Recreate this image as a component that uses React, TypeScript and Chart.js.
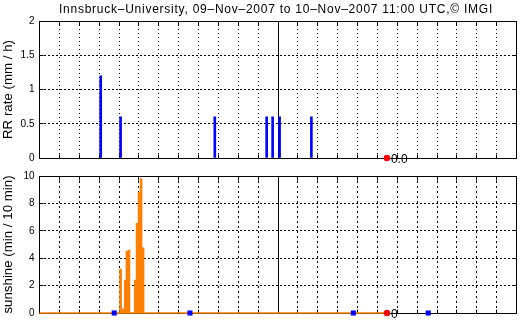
import React, { useEffect, useRef } from "react";
import { Chart, registerables } from "chart.js";

Chart.register(...registerables);

const TITLE = "Innsbruck\u2013University, 09\u2013Nov\u20132007 to 10\u2013Nov\u20132007 11:00 UTC,\u00a9 IMGI";
const FONT = "'Liberation Sans', Arial, Helvetica, sans-serif";

// x axis: hours after 09-Nov-2007 11:00 UTC
const X_MIN = 0;
const X_MAX = 24;
const MIDNIGHT = 12; // local midnight (23:00 UTC)
const NOW_HOUR = 17.48;

// precipitation rate
const rrHours = [3.08, 4.08, 8.82, 11.43, 11.73, 12.08, 13.68];
const rrValues = [1.2, 0.6, 0.6, 0.6, 0.6, 0.6, 0.6];
const rrNow = 0.0;
const rrNowLabel = "0.0";
const rrTicks = [0, 0.5, 1, 1.5, 2];

// sunshine duration
const sunHours = [4.08, 4.22, 4.32, 4.4, 4.5, 4.82, 4.91, 5.01, 5.11, 5.21];
const sunValues = [3.2, 0.3, 2.4, 4.5, 4.6, 2.4, 6.55, 8.8, 9.8, 4.75];
const sunBaseHours = [0, NOW_HOUR];
const sunBaseValues = [0, 0];
const sunMarkHours = [3.76, 7.57, 15.79, 19.56];
const sunMarkValues = [0, 0, 0, 0];
const sunNow = 0;
const sunNowLabel = "0";
const sunTicks = [0, 2, 4, 6, 8, 10];

const framePlugin = {
  id: "frame",
  beforeDatasetsDraw(chart: any) {
    const { ctx, chartArea, scales } = chart;
    const { left, top, right, bottom } = chartArea;
    const x = scales.x;
    const y = scales.y;
    const a = (v: number) => Math.round(v - 0.5) + 0.5;
    ctx.save();
    ctx.strokeStyle = "#000";
    ctx.lineWidth = 1;
    ctx.setLineDash([]);
    ctx.beginPath();
    ctx.rect(a(left), a(top), a(right) - a(left), a(bottom) - a(top));
    x.ticks.forEach((t: any) => {
      const px = a(x.getPixelForValue(t.value));
      ctx.moveTo(px, a(bottom));
      ctx.lineTo(px, a(bottom) - 4);
      ctx.moveTo(px, a(top));
      ctx.lineTo(px, a(top) + 4);
    });
    y.ticks.forEach((t: any) => {
      const py = a(y.getPixelForValue(t.value));
      ctx.moveTo(a(left), py);
      ctx.lineTo(a(left) + 4, py);
      ctx.moveTo(a(right), py);
      ctx.lineTo(a(right) - 4, py);
    });
    ctx.stroke();
    ctx.restore();
  },
};

const valueLabelPlugin = {
  id: "valueLabel",
  afterDatasetsDraw(chart: any) {
    const { ctx } = chart;
    chart.data.datasets.forEach((ds: any, i: number) => {
      if (!ds.valueLabel) return;
      const meta = chart.getDatasetMeta(i);
      ctx.save();
      ctx.font = `12px ${FONT}`;
      ctx.fillStyle = "#000";
      ctx.textAlign = "left";
      ctx.textBaseline = "alphabetic";
      meta.data.forEach((pt: any) => {
        ctx.fillText(ds.valueLabel, pt.x + 4, pt.y + 4.5);
      });
      ctx.restore();
    });
  },
};

const titlePlugin = {
  id: "topTitle",
  afterDraw(chart: any) {
    if (!chart.options.plugins.topTitle?.text) return;
    const { ctx, chartArea } = chart;
    ctx.save();
    ctx.font = `12px ${FONT}`;
    try {
      (ctx as any).letterSpacing = "0.75px";
    } catch (e) {}
    ctx.fillStyle = "#000";
    ctx.textAlign = "center";
    ctx.textBaseline = "alphabetic";
    ctx.fillText(chart.options.plugins.topTitle.text, (chartArea.left + chartArea.right) / 2 - 2, 12.5);
    ctx.restore();
  },
};

const fmt = (v: any) => String(Math.round(Number(v) * 100) / 100);

const zeroHeight = (s: any) => {
  s.height = 0;
  s.paddingLeft = 0;
  s.paddingRight = 0;
};

function makeOptions(
  yMax: number,
  yStep: number,
  yTitle: string,
  xDash: number[],
  padTop: number,
  padBottom: number,
  title?: string
) {
  return {
    animation: false,
    responsive: false,
    maintainAspectRatio: false,
    layout: { padding: { top: padTop, right: 7.5, bottom: padBottom, left: 0 } },
    plugins: {
      legend: { display: false },
      tooltip: { enabled: false },
      title: { display: false },
      topTitle: { text: title },
    },
    scales: {
      x: {
        type: "linear",
        min: X_MIN,
        max: X_MAX,
        offset: false,
        ticks: { display: false, stepSize: 1 },
        grid: { offset: false, drawTicks: false, color: "#000", lineWidth: 1 },
        border: { display: false, dash: xDash },
        afterFit: zeroHeight,
      },
      xm: {
        type: "linear",
        position: "bottom",
        min: X_MIN,
        max: X_MAX,
        offset: false,
        ticks: { display: false },
        afterBuildTicks: (s: any) => {
          s.ticks = [{ value: MIDNIGHT }];
        },
        grid: { offset: false, drawTicks: false, color: "#000", lineWidth: 1 },
        border: { display: false },
        afterFit: zeroHeight,
      },
      y: {
        type: "linear",
        min: 0,
        max: yMax,
        ticks: {
          stepSize: yStep,
          color: "#000",
          padding: 5,
          font: { family: FONT, size: 10 },
          callback: fmt,
        },
        grid: { drawTicks: false, color: "#000", lineWidth: 1 },
        border: { display: false, dash: [2, 2] },
        title: {
          display: true,
          text: yTitle,
          color: "#000",
          font: { family: FONT, size: 13.3 },
          padding: { top: 0, bottom: 0 },
        },
        afterFit: (s: any) => {
          s.width = 39.5;
          s.paddingTop = 0;
          s.paddingBottom = 0;
        },
      },
    },
  };
}

export default function App() {
  const topRef = useRef<HTMLCanvasElement>(null);
  const botRef = useRef<HTMLCanvasElement>(null);

  useEffect(() => {
    const top = new Chart(topRef.current as HTMLCanvasElement, {
      type: "bar",
      data: {
        datasets: [
          {
            type: "line",
            data: [{ x: NOW_HOUR, y: rrNow }],
            showLine: false,
            pointRadius: 3.2,
            pointBackgroundColor: "#ff0000",
            pointBorderWidth: 0,
            clip: false,
            valueLabel: rrNowLabel,
          } as any,
          {
            type: "bar",
            data: rrHours.map((h, i) => ({ x: h, y: rrValues[i] })),
            backgroundColor: "#0000ff",
            barThickness: 2,
            borderWidth: 0,
          },
        ],
      },
      options: makeOptions(rrTicks[rrTicks.length - 1], 0.5, "RR rate (mm / h)", [1, 3], 21, 7, TITLE) as any,
      plugins: [framePlugin, valueLabelPlugin, titlePlugin],
    });

    const bot = new Chart(botRef.current as HTMLCanvasElement, {
      type: "bar",
      data: {
        datasets: [
          {
            type: "line",
            data: [{ x: NOW_HOUR, y: sunNow }],
            showLine: false,
            pointRadius: 3.2,
            pointBackgroundColor: "#ff0000",
            pointBorderWidth: 0,
            clip: false,
            valueLabel: sunNowLabel,
          } as any,
          {
            type: "line",
            data: sunMarkHours.map((h, i) => ({ x: h, y: sunMarkValues[i] })),
            showLine: false,
            pointStyle: "rect",
            pointRadius: 3.6,
            pointBackgroundColor: "#0000ff",
            pointBorderWidth: 0,
            clip: false,
          },
          {
            type: "bar",
            data: sunHours.map((h, i) => ({ x: h, y: sunValues[i] })),
            backgroundColor: "#ff8000",
            barThickness: 2,
            borderWidth: 0,
          },
          {
            type: "line",
            data: sunBaseHours.map((h, i) => ({ x: h, y: sunBaseValues[i] })),
            borderColor: "#ff8000",
            borderWidth: 1.5,
            pointRadius: 0,
            clip: false,
          },
        ],
      },
      options: makeOptions(sunTicks[sunTicks.length - 1], 2, "sunshine (min / 10 min)", [2, 3], 11, 10) as any,
      plugins: [framePlugin, valueLabelPlugin],
    });

    return () => {
      top.destroy();
      bot.destroy();
    };
  }, []);

  return (
    <div style={{ position: "absolute", left: 0, top: 0, width: 524, height: 323, background: "#fff" }}>
      <canvas ref={topRef} width={524} height={165} style={{ position: "absolute", left: 0, top: 0, width: 524, height: 165 }} />
      <canvas ref={botRef} width={524} height={158} style={{ position: "absolute", left: 0, top: 165, width: 524, height: 158 }} />
    </div>
  );
}
